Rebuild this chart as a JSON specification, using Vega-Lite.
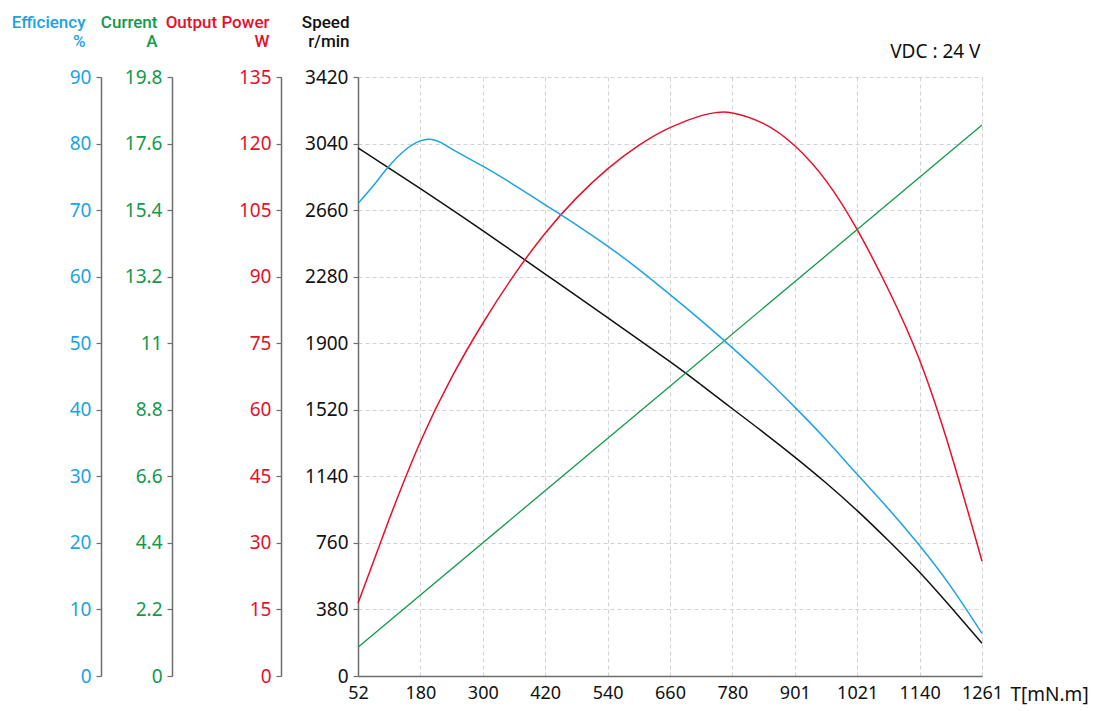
{
  "$schema": "https://vega.github.io/schema/vega-lite/v6.json",
  "width": 624,
  "height": 599,
  "autosize": {"type": "none"},
  "padding": {"left": 358, "top": 77, "right": 117, "bottom": 35},
  "background": "white",
  "config": {
    "view": {"stroke": null},
    "font": "Noto Sans",
    "axis": {
      "labelFont": "Noto Sans",
      "titleFont": "Roboto",
      "labelFontSize": 19,
      "domainColor": "#6e6e6e",
      "domainWidth": 1.5,
      "tickColor": "#6e6e6e",
      "tickWidth": 1.2,
      "tickSize": 5,
      "labelPadding": 5,
      "labelFlush": false,
      "labelOverlap": false,
      "gridColor": "#d2d2d2",
      "gridDash": [4, 3],
      "gridWidth": 1
    }
  },
  "datasets": {
    "spd": [
      {"T": 52, "v": 3016}, {"T": 172.9, "v": 2783}, {"T": 293.8, "v": 2543}, {"T": 414.7, "v": 2295},
      {"T": 535.6, "v": 2046}, {"T": 656.5, "v": 1795}, {"T": 717, "v": 1662}, {"T": 777.4, "v": 1526},
      {"T": 838, "v": 1390}, {"T": 898.3, "v": 1250}, {"T": 959, "v": 1102}, {"T": 1019.2, "v": 944},
      {"T": 1080, "v": 772}, {"T": 1140.1, "v": 592}, {"T": 1200, "v": 395}, {"T": 1261, "v": 187}
    ],
    "pow": [
      {"T": 52, "v": 16.4}, {"T": 112, "v": 35.2}, {"T": 172.9, "v": 52.8}, {"T": 233, "v": 67.2},
      {"T": 293.8, "v": 79.5}, {"T": 354, "v": 90.3}, {"T": 414.7, "v": 99.8}, {"T": 475, "v": 107.7},
      {"T": 535.6, "v": 114.3}, {"T": 596, "v": 119.6}, {"T": 656.5, "v": 123.6}, {"T": 717, "v": 126.3},
      {"T": 747, "v": 127.0}, {"T": 777.4, "v": 126.9}, {"T": 838, "v": 124.5}, {"T": 898.3, "v": 119.5},
      {"T": 959, "v": 111.6}, {"T": 1019.2, "v": 100.6}, {"T": 1080, "v": 87.0}, {"T": 1140.1, "v": 71.2},
      {"T": 1200, "v": 50.5}, {"T": 1261, "v": 25.9}
    ],
    "cur": [
      {"T": 52, "v": 0.95}, {"T": 656.5, "v": 9.58}, {"T": 1261, "v": 18.21}
    ],
    "eff": [
      {"T": 52, "v": 71.0}, {"T": 82, "v": 73.7}, {"T": 111, "v": 76.5}, {"T": 143, "v": 79.0},
      {"T": 172.9, "v": 80.4}, {"T": 195, "v": 80.6}, {"T": 214, "v": 80.1}, {"T": 240, "v": 78.9},
      {"T": 293.8, "v": 76.6}, {"T": 354, "v": 73.8}, {"T": 414.7, "v": 70.8}, {"T": 475, "v": 67.8},
      {"T": 535.6, "v": 64.6}, {"T": 596, "v": 61.1}, {"T": 656.5, "v": 57.3}, {"T": 717, "v": 53.4},
      {"T": 777.4, "v": 49.3}, {"T": 838, "v": 45.0}, {"T": 898.3, "v": 40.4}, {"T": 959, "v": 35.5},
      {"T": 1019.2, "v": 30.3}, {"T": 1080, "v": 25.1}, {"T": 1140.1, "v": 19.6}, {"T": 1200, "v": 13.5},
      {"T": 1261, "v": 6.4}
    ]
  },
  "layer": [
    {
      "data": {"name": "spd"},
      "mark": {"type": "line", "color": "#111111", "strokeWidth": 1.5, "interpolate": "natural"},
      "encoding": {
        "x": {
          "field": "T", "type": "quantitative",
          "scale": {"domain": [52, 1261], "nice": false, "zero": false},
          "axis": {
            "orient": "bottom",
            "values": [52, 172.9, 293.8, 414.7, 535.6, 656.5, 777.4, 898.3, 1019.2, 1140.1, 1261],
            "labelExpr": "datum.value < 100 ? '52' : datum.value < 200 ? '180' : datum.value < 350 ? '300' : datum.value < 450 ? '420' : datum.value < 600 ? '540' : datum.value < 700 ? '660' : datum.value < 800 ? '780' : datum.value < 950 ? '901' : datum.value < 1100 ? '1021' : datum.value < 1200 ? '1140' : '1261'",
            "ticks": false,
            "labelPadding": 8,
            "labelFontSize": 18,
            "labelColor": "#111111",
            "grid": true,
            "title": "T[mN.m]",
            "titleFont": "Noto Sans",
            "titleFontSize": 19,
            "titleFontWeight": "normal",
            "titleColor": "#111111",
            "titleAlign": "left",
            "titleAnchor": "start",
            "titleBaseline": "alphabetic",
            "titleX": 652,
            "titleY": 24
          }
        },
        "y": {
          "field": "v", "type": "quantitative",
          "scale": {"domain": [0, 3420], "nice": false, "zero": true},
          "axis": {
            "orient": "left",
            "offset": 0,
            "values": [0, 380, 760, 1140, 1520, 1900, 2280, 2660, 3040, 3420],
            "format": "d",
            "grid": true,
            "labelColor": "#111111",
            "title": ["Speed", "r/min"],
            "titleColor": "#111111",
            "titleFontSize": 17,
            "titleFontWeight": 500,
            "titleAngle": 0,
            "titleAlign": "right",
            "titleBaseline": "alphabetic",
            "titleLineHeight": 19,
            "titleX": -9,
            "titleY": -50
          }
        }
      }
    },
    {
      "data": {"name": "pow"},
      "mark": {"type": "line", "color": "#e5102a", "strokeWidth": 1.5, "interpolate": "natural"},
      "encoding": {
        "x": {"field": "T", "type": "quantitative", "axis": null},
        "y": {
          "field": "v", "type": "quantitative",
          "scale": {"domain": [0, 135], "nice": false, "zero": true},
          "axis": {
            "orient": "left",
            "offset": 77,
            "values": [0, 15, 30, 45, 60, 75, 90, 105, 120, 135],
            "grid": false,
            "labelColor": "#e5102a",
            "title": ["Output Power", "W"],
            "titleColor": "#e5102a",
            "titleFontSize": 17,
            "titleFontWeight": 500,
            "titleAngle": 0,
            "titleAlign": "right",
            "titleBaseline": "alphabetic",
            "titleLineHeight": 19,
            "titleX": -12,
            "titleY": -50
          }
        }
      }
    },
    {
      "data": {"name": "cur"},
      "mark": {"type": "line", "color": "#12994a", "strokeWidth": 1.3},
      "encoding": {
        "x": {"field": "T", "type": "quantitative", "axis": null},
        "y": {
          "field": "v", "type": "quantitative",
          "scale": {"domain": [0, 19.8], "nice": false, "zero": true},
          "axis": {
            "orient": "left",
            "offset": 186,
            "values": [0, 2.2, 4.4, 6.6, 8.8, 11, 13.2, 15.4, 17.6, 19.8],
            "labelExpr": "replace(format(datum.value, '.1f'), '.0', '')",
            "grid": false,
            "labelColor": "#12994a",
            "title": ["Current", "A"],
            "titleColor": "#12994a",
            "titleFontSize": 17,
            "titleFontWeight": 500,
            "titleAngle": 0,
            "titleAlign": "right",
            "titleBaseline": "alphabetic",
            "titleLineHeight": 19,
            "titleX": -15,
            "titleY": -50
          }
        }
      }
    },
    {
      "data": {"name": "eff"},
      "mark": {"type": "line", "color": "#1ba3e3", "strokeWidth": 1.5, "interpolate": "natural"},
      "encoding": {
        "x": {
          "field": "T", "type": "quantitative",
          "axis": {
            "orient": "top",
            "domain": false,
            "ticks": false,
            "labels": false,
            "grid": false,
            "title": "VDC : 24 V",
            "titleFont": "Noto Sans",
            "titleFontSize": 19,
            "titleFontWeight": "normal",
            "titleColor": "#111111",
            "titleAlign": "right",
            "titleAnchor": "end",
            "titleBaseline": "alphabetic",
            "titleX": 622,
            "titleY": -20
          }
        },
        "y": {
          "field": "v", "type": "quantitative",
          "scale": {"domain": [0, 90], "nice": false, "zero": true},
          "axis": {
            "orient": "left",
            "offset": 257,
            "values": [0, 10, 20, 30, 40, 50, 60, 70, 80, 90],
            "grid": false,
            "labelColor": "#1ba3e3",
            "title": ["Efficiency", "%"],
            "titleColor": "#1ba3e3",
            "titleFontSize": 17,
            "titleFontWeight": 500,
            "titleAngle": 0,
            "titleAlign": "right",
            "titleBaseline": "alphabetic",
            "titleLineHeight": 19,
            "titleX": -16,
            "titleY": -50
          }
        }
      }
    }
  ],
  "resolve": {"scale": {"y": "independent"}, "axis": {"x": "independent"}}
}
